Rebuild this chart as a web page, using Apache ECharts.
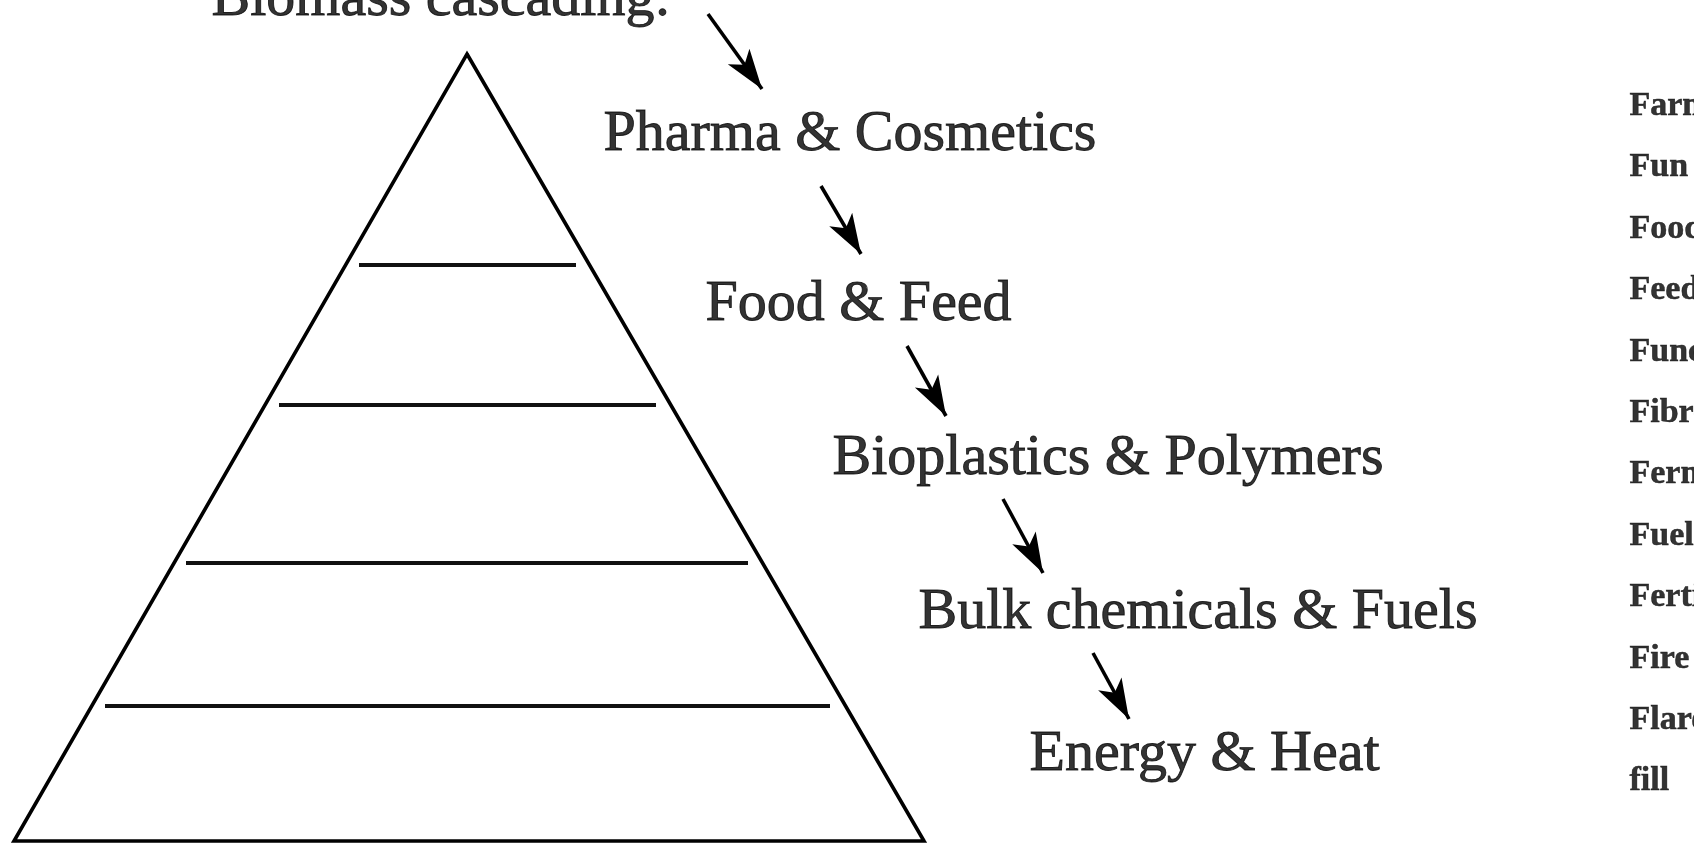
<!DOCTYPE html>
<html>
<head>
<meta charset="utf-8">
<title>Biomass cascading</title>
<style>
  html, body { margin: 0; padding: 0; background: #fff; }
  #chart { width: 1694px; height: 845px; }
</style>
<script src="https://cdn.jsdelivr.net/npm/echarts@6/dist/echarts.min.js"></script>
</head>
<body>
<div id="chart"></div>
<script>
// pyramid outline, in picture pixels (apex, base right, base left, apex)
const pyramidX = [467, 924, 14, 467, 924];
const pyramidY = [54, 841, 841, 54, 841];

// tier dividers inside the pyramid
const tierY = [265, 405, 563, 706];
const tierLeft = [359, 279, 186, 105];
const tierRight = [576, 656, 748, 830];

// cascade stages (text start x, text middle y)
const stages = ['Pharma & Cosmetics', 'Food & Feed', 'Bioplastics & Polymers', 'Bulk chemicals & Fuels', 'Energy & Heat'];
const stageX = [603, 705, 832, 918, 1029];
const stageY = [135, 305, 459, 613, 755];

const titleText = ['Biomass cascading:'];
const titleX = [211];
const titleY = [0];

// arrows: shaft start and tip
const arrowFromX = [708, 821, 907, 1003, 1093];
const arrowFromY = [14, 186, 346, 499, 653];
const arrowToX = [762, 861, 946, 1043, 1129];
const arrowToY = [89, 254, 416, 573, 719];

// the "F" list on the right edge (cut off by the picture border)
const sideWords = ['Farma', 'Fun', 'Food', 'Feed', 'Functional', 'Fibres', 'Fermentation', 'Fuel', 'Fertilizer', 'Fire', 'Flare', 'fill'];
const sideX = 1629;
const sideY = [106, 167, 229, 290, 352, 413, 474, 536, 597, 659, 720, 781];

const chart = echarts.init(document.getElementById('chart'));

const serifLabel = {
  show: true,
  position: 'right',
  distance: 0,
  color: '#000',
  textBorderColor: '#000',
  textBorderWidth: 0.9,
  fontFamily: 'Liberation Serif',
  fontSize: 58,
  formatter: p => p.data.name
};

const textSeries = (names, xs, ys, label) => ({
  type: 'scatter',
  symbolSize: 1,
  itemStyle: { color: 'rgba(0,0,0,0)' },
  silent: true,
  label: label,
  data: names.map((n, i) => ({ name: n, value: [Array.isArray(xs) ? xs[i] : xs, ys[i]] }))
});

const option = {
  animation: false,
  backgroundColor: '#fff',
  grid: { left: 0, right: 0, top: 0, bottom: 0 },
  xAxis: { type: 'value', min: 0, max: 1694, show: false },
  yAxis: { type: 'value', min: 0, max: 845, inverse: true, show: false },
  series: [
    {
      type: 'line',
      symbol: 'none',
      silent: true,
      lineStyle: { color: '#000', width: 3.6, join: 'miter' },
      data: pyramidX.map((x, i) => [x, pyramidY[i]])
    },
    {
      type: 'lines',
      coordinateSystem: 'cartesian2d',
      silent: true,
      lineStyle: { color: '#111', width: 4, opacity: 1 },
      data: tierY.map((y, i) => ({ coords: [[tierLeft[i], y], [tierRight[i], y]] }))
    },
    {
      type: 'lines',
      coordinateSystem: 'cartesian2d',
      silent: true,
      symbol: ['none', 'arrow'],
      symbolSize: [0, [20, 40]],
      lineStyle: { color: '#000', width: 3.6, opacity: 1 },
      itemStyle: { color: '#000' },
      data: arrowFromX.map((x, i) => ({ coords: [[x, arrowFromY[i]], [arrowToX[i], arrowToY[i]]] }))
    },
    textSeries(stages, stageX, stageY, serifLabel),
    textSeries(titleText, titleX, titleY, serifLabel),
    textSeries(sideWords, sideX, sideY, Object.assign({}, serifLabel, { fontSize: 34, fontWeight: 'bold', textBorderWidth: 0.5 }))
  ]
};

chart.setOption(option);
</script>
</body>
</html>
